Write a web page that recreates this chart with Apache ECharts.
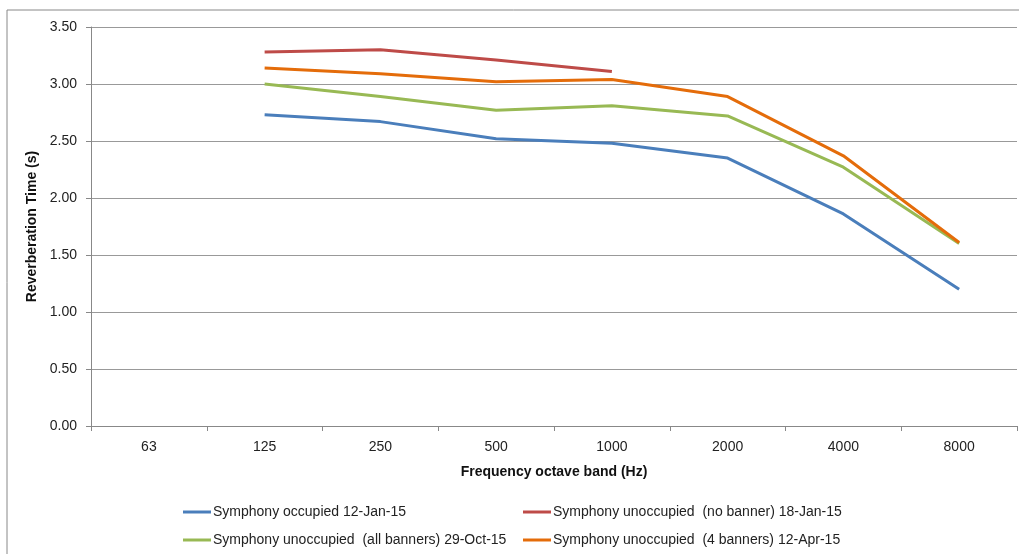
<!DOCTYPE html>
<html><head><meta charset="utf-8">
<script src="https://cdn.jsdelivr.net/npm/echarts@6/dist/echarts.min.js"></script>
<style>html,body{margin:0;padding:0;background:#fff}#c{width:1019px;height:554px}</style>
</head><body><div id="c"></div>
<script>
const categories = ['63','125','250','500','1000','2000','4000','8000'];
const seriesNames = [
  'Symphony occupied 12-Jan-15',
  'Symphony unoccupied  (no banner) 18-Jan-15',
  'Symphony unoccupied  (all banners) 29-Oct-15',
  'Symphony unoccupied  (4 banners) 12-Apr-15'
];
const occupied = [null, 2.73, 2.67, 2.52, 2.48, 2.35, 1.86, 1.20];
const noBanner = [null, 3.28, 3.30, 3.21, 3.11, null, null, null];
const allBanners = [null, 3.00, 2.89, 2.77, 2.81, 2.72, 2.27, 1.60];
const fourBanners = [null, 3.14, 3.09, 3.02, 3.04, 2.89, 2.37, 1.61];
const colors = ['#4A7EBB', '#BE4B48', '#98B954', '#E46C0A'];
const values = [occupied, noBanner, allBanners, fourBanners];

const font = 'Liberation Sans';
const chart = echarts.init(document.getElementById('c'));
const legendPos = [[183, 505], [523, 505], [183, 533], [523, 533]];
chart.setOption({
  animation: false,
  graphic: [{type: 'rect', shape: {x: 7, y: 10, width: 1100, height: 700}, style: {fill: 'none', stroke: '#888', lineWidth: 1}, silent: true, z: -1}],
  grid: {left: 91, right: 2, top: 27, bottom: 128},
  legend: seriesNames.map((n, i) => ({
    data: [n], left: legendPos[i][0], top: legendPos[i][1], itemWidth: 28, itemHeight: 3, itemGap: 0,
    icon: 'rect', textStyle: {fontFamily: font, fontSize: 14, color: '#222', padding: [0, 0, 0, -3]}, padding: 0
  })),
  xAxis: {
    type: 'category', data: categories, boundaryGap: true,
    name: 'Frequency octave band (Hz)', nameLocation: 'middle', nameGap: 39,
    nameTextStyle: {fontFamily: font, fontSize: 14, fontWeight: 'bold', color: '#111'},
    axisLine: {lineStyle: {color: '#888', width: 1}},
    axisTick: {show: true, length: 5, lineStyle: {color: '#888'}},
    axisLabel: {fontFamily: font, fontSize: 14, color: '#222', margin: 14},
    splitLine: {show: false}
  },
  yAxis: {
    type: 'value', min: 0, max: 3.5, interval: 0.5,
    name: 'Reverberation Time (s)', nameLocation: 'middle', nameGap: 47, nameRotate: 90,
    nameTextStyle: {fontFamily: font, fontSize: 14, fontWeight: 'bold', color: '#111'},
    axisLine: {show: true, lineStyle: {color: '#888', width: 1}},
    axisTick: {show: true, length: 5, lineStyle: {color: '#888'}},
    axisLabel: {fontFamily: font, fontSize: 14, color: '#222', margin: 14, formatter: v => v.toFixed(2)},
    splitLine: {lineStyle: {color: '#999', width: 1}}
  },
  series: values.map((d, i) => ({
    name: seriesNames[i], type: 'line', data: d, showSymbol: false, symbol: 'none',
    connectNulls: false, color: colors[i], lineStyle: {width: 3, color: colors[i]}
  }))
});
</script></body></html>
